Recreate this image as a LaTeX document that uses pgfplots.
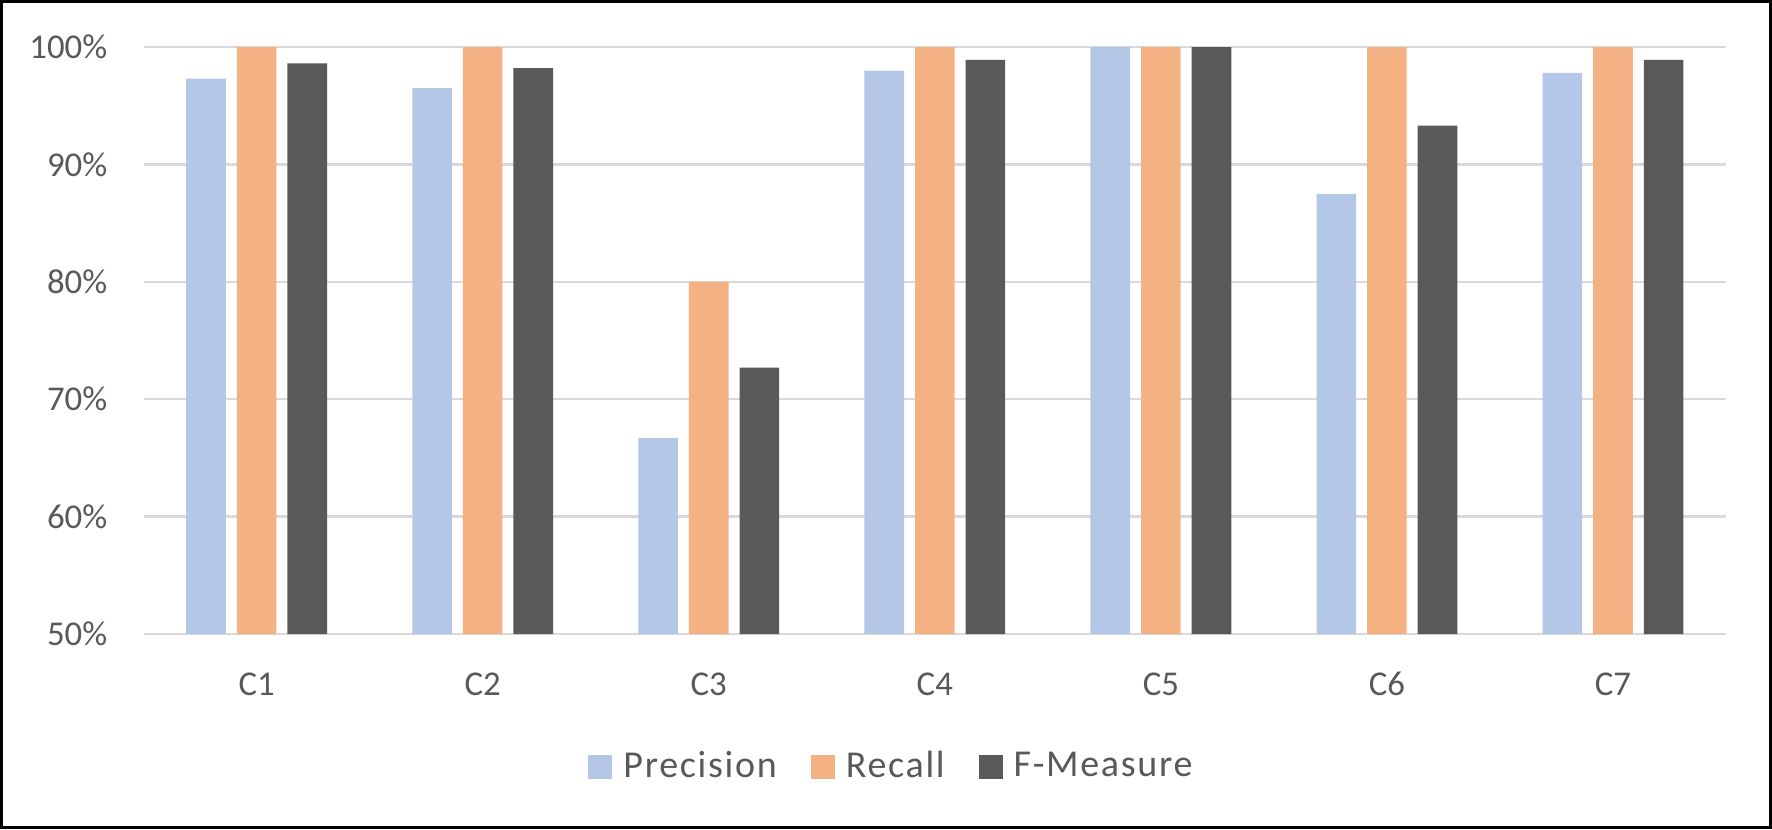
\documentclass[border=0pt]{standalone}
\usepackage{fontspec}
\setmainfont{Carlito}
\newfontfamily\legendfont[LetterSpace=4.5]{Carlito}
\usepackage{pgfplots}
\usepackage{pgfplotstable}
\pgfplotsset{compat=1.18}

\definecolor{precC}{HTML}{B4C7E7}
\definecolor{recC}{HTML}{F4B183}
\definecolor{fmC}{HTML}{595959}
\definecolor{gridC}{HTML}{D9D9D9}
\definecolor{txtC}{HTML}{595959}

% category, Precision, Recall, F-Measure (percent)
\pgfplotstableread{
x P R F
0 97.3 100 98.6
1 96.5 100 98.2
2 66.7 80 72.7
3 98.0 100 98.9
4 100 100 100
5 87.5 100 93.3
6 97.8 100 98.9
}\scores

\begin{document}
\begin{tikzpicture}
\useasboundingbox (0,0) rectangle (443pt,207.25pt);
\draw[line width=0.75pt] (0.375pt,0.375pt) rectangle (442.625pt,206.875pt);
\begin{axis}[
    at={(35.9pt,48.75pt)}, anchor=south west,
    scale only axis,
    width=395.6pt, height=146.75pt,
    ybar=2.75pt, bar width=9.9pt,
    xmin=-0.5, xmax=6.5,
    ymin=50, ymax=100,
    xtick={0,...,6},
    xticklabels={C1,C2,C3,C4,C5,C6,C7},
    ytick={50,60,70,80,90,100},
    yticklabels={50\%,60\%,70\%,80\%,90\%,100\%},
    major tick length=0pt,
    axis line style={draw=none},
    ymajorgrids,
    grid style={gridC, line width=0.6pt},
    tick label style={font=\fontsize{8.7}{11}\selectfont, text=txtC},
    yticklabel style={anchor=east, inner sep=0pt, xshift=-8.9pt},
    xticklabel style={anchor=north, inner sep=0pt, yshift=-9.4pt},
    legend style={
        at={(0.472,-0.2266)}, anchor=center,
        draw=none, fill=none,
        legend columns=-1,
        font=\fontsize{9.5}{11}\legendfont,
        text=txtC,
        nodes={inner sep=0pt},
        /tikz/every odd column/.append style={column sep=2.75pt},
        /tikz/every even column/.append style={column sep=8.5pt},
    },
    legend image code/.code={\fill[#1] (0pt,-3pt) rectangle (6pt,3pt);},
]
\addplot[fill=precC, draw=none] table[x=x, y=P] {\scores};
\addlegendentry{Precision}
\addplot[fill=recC, draw=none] table[x=x, y=R] {\scores};
\addlegendentry{Recall}
\addplot[fill=fmC, draw=none] table[x=x, y=F] {\scores};
\addlegendentry{F-Measure}
\end{axis}
\end{tikzpicture}
\end{document}
